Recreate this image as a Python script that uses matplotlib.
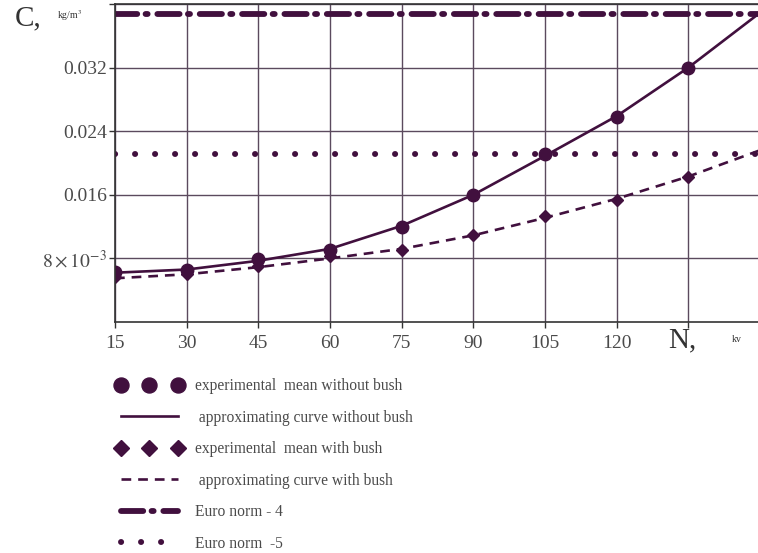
import numpy as np
import matplotlib
matplotlib.use("Agg")
import matplotlib.pyplot as plt

plt.rcParams['font.family'] = ['Liberation Serif', 'DejaVu Serif']
plt.rcParams['mathtext.fontset'] = 'stix'
plt.rcParams['lines.scale_dashes'] = False

# speed N, kv
N = [15, 30, 45, 60, 75, 90, 105, 120, 135]
# concentration C, kg/m3 - experimental means
c_no_bush = [0.0063, 0.0066, 0.0079, 0.0091, 0.0120, 0.0160, 0.0211, 0.0258, 0.0320]
c_bush = [0.0056, 0.0060, 0.0070, 0.0083, 0.0090, 0.0110, 0.0133, 0.0153, 0.0182]
# approximating curves
N_fit = [15, 30, 45, 60, 75, 90, 105, 120, 135, 150]
fit_no_bush = [0.0062, 0.0066, 0.0077, 0.0092, 0.0121, 0.0160, 0.0209, 0.0259, 0.0320, 0.0389]
fit_bush = [0.0055, 0.0060, 0.0069, 0.0080, 0.0092, 0.0109, 0.0131, 0.0155, 0.0183, 0.0216]
euro4 = 0.0388
euro5 = 0.0211

xticks = [15, 30, 45, 60, 75, 90, 105, 120, 135]
xticklabels = ['15', '30', '45', '60', '75', '90', '105', '120', '']
yticks = [0.008, 0.016, 0.024, 0.032, 0.040]
yticklabels = [r'$8\times10^{-3}$', '0.016', '0.024', '0.032', '']

col = '#41103e'
gridc = '#5b4a5e'
txtc = '#4a4a4a'

fig = plt.figure(figsize=(7.58, 5.53), dpi=100)
ax = fig.add_axes([115/758, 1-322/553, 645/758, 318/553])

ax.set_xlim(15, 150)
ax.set_ylim(0, 0.040)
ax.set_xticks(xticks)
ax.set_xticklabels(xticklabels)
ax.set_yticks(yticks)
ax.set_yticklabels(yticklabels)
ax.grid(True, color=gridc, lw=1.0)
ax.set_axisbelow(True)
for s in ax.spines.values():
    s.set_color('#333333')
    s.set_linewidth(1.2)
ax.tick_params(axis='both', direction='out', length=4, width=1, color='#333333',
               labelcolor=txtc, labelsize=14)
ax.tick_params(axis='x', pad=5)
ax.tick_params(axis='y', pad=2)

h_e4, = ax.plot([15, 150], [euro4, euro4], color=col, lw=4.2,
                dashes=(16, 6, 1.5, 7), dash_capstyle='round', label='Euro norm - 4')
h_e5, = ax.plot([15, 150], [euro5, euro5], color=col, lw=4.3,
                dashes=(0.1, 14.3), dash_capstyle='round', label='Euro norm  -5')
h_fit1, = ax.plot(N_fit, fit_no_bush, color=col, lw=1.9,
                  label=' approximating curve without bush')
h_fit2, = ax.plot(N_fit, fit_bush, color=col, lw=1.9, dashes=(7, 5),
                  label=' approximating curve with bush')
h_pt1, = ax.plot(N, c_no_bush, 'o', color=col, ms=9, ls='none',
                 label='experimental  mean without bush')
h_pt2, = ax.plot(N, c_bush, 'D', color=col, ms=6.5, ls='none',
                 label='experimental  mean with bush')

# axis names written like in the original plot
fig.text(15/758, 1-18/553, 'C,', fontsize=21, color='#333333', va='center')
fig.text(57/758, 1-16/553, 'kg/m$^3$', fontsize=7, color='#333333', va='center')
fig.text(668/758, 1-340/553, 'N,', fontsize=21, color='#333333', va='center')
fig.text(732/758, 1-340/553, 'kv', fontsize=7, color='#333333', va='center')

leg = ax.legend(handles=[h_pt1, h_fit1, h_pt2, h_fit2, h_e4, h_e5],
                loc='upper left', bbox_to_anchor=(116/758, 1-378/553),
                bbox_transform=fig.transFigure, frameon=False, numpoints=3,
                handlelength=4.3, handletextpad=0.8, labelspacing=1.0,
                borderpad=0, borderaxespad=0, fontsize=11.2, markerscale=1.2)
for t in leg.get_texts():
    t.set_color(txtc)

fig.savefig('out.png', dpi=100)
